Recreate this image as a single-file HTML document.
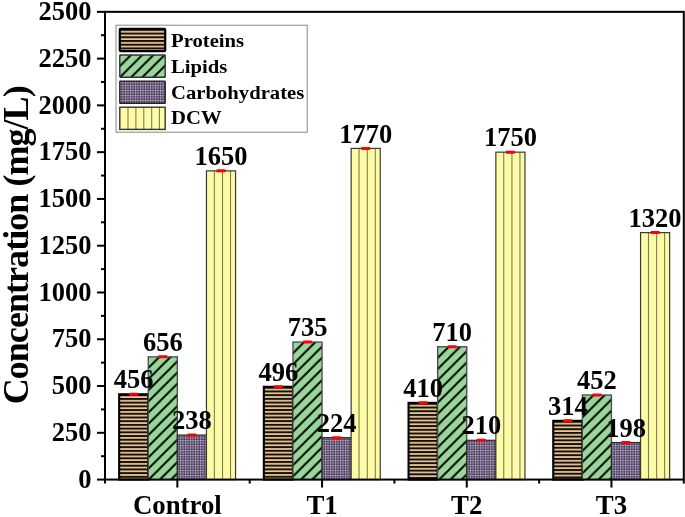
<!DOCTYPE html><html><head><meta charset="utf-8"><style>html,body{margin:0;padding:0;background:#fff;width:685px;height:517px;overflow:hidden}svg{display:block;filter:blur(0.4px)}text{font-family:'Liberation Serif',serif;font-weight:bold}</style></head><body>
<svg width="685" height="517" viewBox="0 0 685 517">
<defs>
<pattern id="pC" patternUnits="userSpaceOnUse" width="2.5" height="2.5"><rect width="2.5" height="2.5" fill="#827494"/><rect width="2.5" height="0.85" fill="#c6b6d8"/><rect width="0.85" height="2.5" fill="#c6b6d8"/><rect y="1.4" width="2.5" height="0.7" fill="#342b44"/><rect x="1.4" width="0.7" height="2.5" fill="#342b44"/></pattern>
<pattern id="pp1" patternUnits="userSpaceOnUse" x="119.15" y="394.26" width="10" height="3.71"><rect width="10" height="3.71" fill="#111"/><rect y="1.95" width="10" height="2.05" fill="#eec48e"/></pattern>
<pattern id="pl2" patternUnits="userSpaceOnUse" x="148.25" y="356.85" width="11.20" height="11.20"><rect width="11.20" height="11.20" fill="#98d69a"/><path d="M-2,2 L2,-2 M-1,12.20 L12.20,-1 M9.20,13.20 L13.20,9.20" stroke="#000" stroke-width="1.95"/></pattern>
<pattern id="pp3" patternUnits="userSpaceOnUse" x="263.85" y="386.78" width="10" height="3.71"><rect width="10" height="3.71" fill="#111"/><rect y="1.95" width="10" height="2.05" fill="#eec48e"/></pattern>
<pattern id="pl4" patternUnits="userSpaceOnUse" x="292.95" y="342.06" width="11.20" height="11.20"><rect width="11.20" height="11.20" fill="#98d69a"/><path d="M-2,2 L2,-2 M-1,12.20 L12.20,-1 M9.20,13.20 L13.20,9.20" stroke="#000" stroke-width="1.95"/></pattern>
<pattern id="pp5" patternUnits="userSpaceOnUse" x="408.55" y="402.87" width="10" height="3.71"><rect width="10" height="3.71" fill="#111"/><rect y="1.95" width="10" height="2.05" fill="#eec48e"/></pattern>
<pattern id="pl6" patternUnits="userSpaceOnUse" x="437.65" y="346.74" width="11.20" height="11.20"><rect width="11.20" height="11.20" fill="#98d69a"/><path d="M-2,2 L2,-2 M-1,12.20 L12.20,-1 M9.20,13.20 L13.20,9.20" stroke="#000" stroke-width="1.95"/></pattern>
<pattern id="pp7" patternUnits="userSpaceOnUse" x="553.25" y="420.83" width="10" height="3.71"><rect width="10" height="3.71" fill="#111"/><rect y="1.95" width="10" height="2.05" fill="#eec48e"/></pattern>
<pattern id="pl8" patternUnits="userSpaceOnUse" x="582.35" y="395.01" width="11.20" height="11.20"><rect width="11.20" height="11.20" fill="#98d69a"/><path d="M-2,2 L2,-2 M-1,12.20 L12.20,-1 M9.20,13.20 L13.20,9.20" stroke="#000" stroke-width="1.95"/></pattern>
<pattern id="pp9" patternUnits="userSpaceOnUse" x="119.80" y="28.90" width="10" height="3.71"><rect width="10" height="3.71" fill="#111"/><rect y="1.95" width="10" height="2.05" fill="#eec48e"/></pattern>
<pattern id="pl10" patternUnits="userSpaceOnUse" x="119.80" y="55.00" width="11.20" height="11.20"><rect width="11.20" height="11.20" fill="#98d69a"/><path d="M-2,2 L2,-2 M-1,12.20 L12.20,-1 M9.20,13.20 L13.20,9.20" stroke="#000" stroke-width="1.95"/></pattern>
</defs>
<rect x="119.15" y="394.26" width="29.10" height="85.32" fill="url(#pp1)" stroke="#000" stroke-width="2.1"/>
<rect x="129.00" y="392.76" width="9.4" height="3" fill="#f00" rx="1.2"/>
<rect x="148.25" y="356.85" width="29.10" height="122.73" fill="url(#pl2)" stroke="#4a4a4a" stroke-width="1.3"/>
<rect x="158.10" y="355.35" width="9.4" height="3" fill="#f00" rx="1.2"/>
<rect x="177.35" y="435.05" width="29.10" height="44.53" fill="url(#pC)" stroke="#2a2a2a" stroke-width="1.2"/>
<rect x="187.20" y="433.55" width="9.4" height="3" fill="#f00" rx="1.2"/>
<rect x="206.45" y="170.87" width="29.10" height="308.71" fill="#fdfba6"/>
<rect x="213.85" y="170.87" width="1" height="308.71" fill="#74744c"/>
<rect x="222.05" y="170.87" width="1" height="308.71" fill="#74744c"/>
<rect x="230.05" y="170.87" width="1" height="308.71" fill="#74744c"/>
<rect x="206.45" y="170.87" width="29.10" height="308.71" fill="none" stroke="#3a3a30" stroke-width="1.2"/>
<rect x="216.30" y="169.37" width="9.4" height="3" fill="#f00" rx="1.2"/>
<rect x="263.85" y="386.78" width="29.10" height="92.80" fill="url(#pp3)" stroke="#000" stroke-width="2.1"/>
<rect x="273.70" y="385.28" width="9.4" height="3" fill="#f00" rx="1.2"/>
<rect x="292.95" y="342.06" width="29.10" height="137.52" fill="url(#pl4)" stroke="#4a4a4a" stroke-width="1.3"/>
<rect x="302.80" y="340.56" width="9.4" height="3" fill="#f00" rx="1.2"/>
<rect x="322.05" y="437.67" width="29.10" height="41.91" fill="url(#pC)" stroke="#2a2a2a" stroke-width="1.2"/>
<rect x="331.90" y="436.17" width="9.4" height="3" fill="#f00" rx="1.2"/>
<rect x="351.15" y="148.42" width="29.10" height="331.16" fill="#fdfba6"/>
<rect x="358.55" y="148.42" width="1" height="331.16" fill="#74744c"/>
<rect x="366.75" y="148.42" width="1" height="331.16" fill="#74744c"/>
<rect x="374.75" y="148.42" width="1" height="331.16" fill="#74744c"/>
<rect x="351.15" y="148.42" width="29.10" height="331.16" fill="none" stroke="#3a3a30" stroke-width="1.2"/>
<rect x="361.00" y="146.92" width="9.4" height="3" fill="#f00" rx="1.2"/>
<rect x="408.55" y="402.87" width="29.10" height="76.71" fill="url(#pp5)" stroke="#000" stroke-width="2.1"/>
<rect x="418.40" y="401.37" width="9.4" height="3" fill="#f00" rx="1.2"/>
<rect x="437.65" y="346.74" width="29.10" height="132.84" fill="url(#pl6)" stroke="#4a4a4a" stroke-width="1.3"/>
<rect x="447.50" y="345.24" width="9.4" height="3" fill="#f00" rx="1.2"/>
<rect x="466.75" y="440.29" width="29.10" height="39.29" fill="url(#pC)" stroke="#2a2a2a" stroke-width="1.2"/>
<rect x="476.60" y="438.79" width="9.4" height="3" fill="#f00" rx="1.2"/>
<rect x="495.85" y="152.16" width="29.10" height="327.42" fill="#fdfba6"/>
<rect x="503.25" y="152.16" width="1" height="327.42" fill="#74744c"/>
<rect x="511.45" y="152.16" width="1" height="327.42" fill="#74744c"/>
<rect x="519.45" y="152.16" width="1" height="327.42" fill="#74744c"/>
<rect x="495.85" y="152.16" width="29.10" height="327.42" fill="none" stroke="#3a3a30" stroke-width="1.2"/>
<rect x="505.70" y="150.66" width="9.4" height="3" fill="#f00" rx="1.2"/>
<rect x="553.25" y="420.83" width="29.10" height="58.75" fill="url(#pp7)" stroke="#000" stroke-width="2.1"/>
<rect x="563.10" y="419.33" width="9.4" height="3" fill="#f00" rx="1.2"/>
<rect x="582.35" y="395.01" width="29.10" height="84.57" fill="url(#pl8)" stroke="#4a4a4a" stroke-width="1.3"/>
<rect x="592.20" y="393.51" width="9.4" height="3" fill="#f00" rx="1.2"/>
<rect x="611.45" y="442.53" width="29.10" height="37.05" fill="url(#pC)" stroke="#2a2a2a" stroke-width="1.2"/>
<rect x="621.30" y="441.03" width="9.4" height="3" fill="#f00" rx="1.2"/>
<rect x="640.55" y="232.61" width="29.10" height="246.97" fill="#fdfba6"/>
<rect x="647.95" y="232.61" width="1" height="246.97" fill="#74744c"/>
<rect x="656.15" y="232.61" width="1" height="246.97" fill="#74744c"/>
<rect x="664.15" y="232.61" width="1" height="246.97" fill="#74744c"/>
<rect x="640.55" y="232.61" width="29.10" height="246.97" fill="none" stroke="#3a3a30" stroke-width="1.2"/>
<rect x="650.40" y="231.11" width="9.4" height="3" fill="#f00" rx="1.2"/>
<text x="133.70" y="388.46" font-size="26.5" text-anchor="middle">456</text>
<text x="162.80" y="351.05" font-size="26.5" text-anchor="middle">656</text>
<text x="191.90" y="429.25" font-size="26.5" text-anchor="middle">238</text>
<text x="221.00" y="165.07" font-size="26.5" text-anchor="middle">1650</text>
<text x="278.40" y="380.98" font-size="26.5" text-anchor="middle">496</text>
<text x="307.50" y="336.26" font-size="26.5" text-anchor="middle">735</text>
<text x="336.60" y="431.87" font-size="26.5" text-anchor="middle">224</text>
<text x="365.70" y="142.62" font-size="26.5" text-anchor="middle">1770</text>
<text x="423.10" y="397.07" font-size="26.5" text-anchor="middle">410</text>
<text x="452.20" y="340.94" font-size="26.5" text-anchor="middle">710</text>
<text x="481.30" y="434.49" font-size="26.5" text-anchor="middle">210</text>
<text x="510.40" y="146.36" font-size="26.5" text-anchor="middle">1750</text>
<text x="567.80" y="415.03" font-size="26.5" text-anchor="middle">314</text>
<text x="596.90" y="389.21" font-size="26.5" text-anchor="middle">452</text>
<text x="626.00" y="436.73" font-size="26.5" text-anchor="middle">198</text>
<text x="655.10" y="226.81" font-size="26.5" text-anchor="middle">1320</text>
<rect x="105.00" y="11.84" width="578.80" height="467.74" fill="none" stroke="#000" stroke-width="2"/>
<line x1="97.00" x2="105.00" y1="479.58" y2="479.58" stroke="#000" stroke-width="2"/>
<text x="91.5" y="487.78" font-size="26.5" text-anchor="end">0</text>
<line x1="101.00" x2="105.00" y1="456.19" y2="456.19" stroke="#000" stroke-width="2"/>
<line x1="97.00" x2="105.00" y1="432.81" y2="432.81" stroke="#000" stroke-width="2"/>
<text x="91.5" y="441.01" font-size="26.5" text-anchor="end">250</text>
<line x1="101.00" x2="105.00" y1="409.42" y2="409.42" stroke="#000" stroke-width="2"/>
<line x1="97.00" x2="105.00" y1="386.03" y2="386.03" stroke="#000" stroke-width="2"/>
<text x="91.5" y="394.23" font-size="26.5" text-anchor="end">500</text>
<line x1="101.00" x2="105.00" y1="362.64" y2="362.64" stroke="#000" stroke-width="2"/>
<line x1="97.00" x2="105.00" y1="339.26" y2="339.26" stroke="#000" stroke-width="2"/>
<text x="91.5" y="347.46" font-size="26.5" text-anchor="end">750</text>
<line x1="101.00" x2="105.00" y1="315.87" y2="315.87" stroke="#000" stroke-width="2"/>
<line x1="97.00" x2="105.00" y1="292.48" y2="292.48" stroke="#000" stroke-width="2"/>
<text x="91.5" y="300.68" font-size="26.5" text-anchor="end">1000</text>
<line x1="101.00" x2="105.00" y1="269.10" y2="269.10" stroke="#000" stroke-width="2"/>
<line x1="97.00" x2="105.00" y1="245.71" y2="245.71" stroke="#000" stroke-width="2"/>
<text x="91.5" y="253.91" font-size="26.5" text-anchor="end">1250</text>
<line x1="101.00" x2="105.00" y1="222.32" y2="222.32" stroke="#000" stroke-width="2"/>
<line x1="97.00" x2="105.00" y1="198.94" y2="198.94" stroke="#000" stroke-width="2"/>
<text x="91.5" y="207.14" font-size="26.5" text-anchor="end">1500</text>
<line x1="101.00" x2="105.00" y1="175.55" y2="175.55" stroke="#000" stroke-width="2"/>
<line x1="97.00" x2="105.00" y1="152.16" y2="152.16" stroke="#000" stroke-width="2"/>
<text x="91.5" y="160.36" font-size="26.5" text-anchor="end">1750</text>
<line x1="101.00" x2="105.00" y1="128.77" y2="128.77" stroke="#000" stroke-width="2"/>
<line x1="97.00" x2="105.00" y1="105.39" y2="105.39" stroke="#000" stroke-width="2"/>
<text x="91.5" y="113.59" font-size="26.5" text-anchor="end">2000</text>
<line x1="101.00" x2="105.00" y1="82.00" y2="82.00" stroke="#000" stroke-width="2"/>
<line x1="97.00" x2="105.00" y1="58.61" y2="58.61" stroke="#000" stroke-width="2"/>
<text x="91.5" y="66.81" font-size="26.5" text-anchor="end">2250</text>
<line x1="101.00" x2="105.00" y1="35.23" y2="35.23" stroke="#000" stroke-width="2"/>
<line x1="97.00" x2="105.00" y1="11.84" y2="11.84" stroke="#000" stroke-width="2"/>
<text x="91.5" y="20.04" font-size="26.5" text-anchor="end">2500</text>
<line x1="177.35" x2="177.35" y1="479.58" y2="487.58" stroke="#000" stroke-width="2"/>
<text x="177.35" y="513.6" font-size="26.8" text-anchor="middle">Control</text>
<line x1="322.05" x2="322.05" y1="479.58" y2="487.58" stroke="#000" stroke-width="2"/>
<text x="322.05" y="513.6" font-size="26.8" text-anchor="middle">T1</text>
<line x1="466.75" x2="466.75" y1="479.58" y2="487.58" stroke="#000" stroke-width="2"/>
<text x="466.75" y="513.6" font-size="26.8" text-anchor="middle">T2</text>
<line x1="611.45" x2="611.45" y1="479.58" y2="487.58" stroke="#000" stroke-width="2"/>
<text x="611.45" y="513.6" font-size="26.8" text-anchor="middle">T3</text>
<line x1="105.00" x2="105.00" y1="479.58" y2="483.58" stroke="#000" stroke-width="2"/>
<line x1="249.70" x2="249.70" y1="479.58" y2="483.58" stroke="#000" stroke-width="2"/>
<line x1="394.40" x2="394.40" y1="479.58" y2="483.58" stroke="#000" stroke-width="2"/>
<line x1="539.10" x2="539.10" y1="479.58" y2="483.58" stroke="#000" stroke-width="2"/>
<line x1="683.80" x2="683.80" y1="479.58" y2="483.58" stroke="#000" stroke-width="2"/>
<text transform="translate(28.4,404.3) rotate(-90)" font-size="36" textLength="319" lengthAdjust="spacing">Concentration (mg/L)</text>
<rect x="116" y="25.2" width="191.2" height="107" fill="#fff" stroke="#888" stroke-width="1"/>
<rect x="119.80" y="28.90" width="45.40" height="22.20" fill="url(#pp9)" stroke="#000" stroke-width="2.2" rx="0.8"/>
<text transform="translate(171,46.90) scale(1.045,1)" font-size="19.8">Proteins</text>
<rect x="119.80" y="55.00" width="45.40" height="22.20" fill="url(#pl10)" stroke="#333" stroke-width="1.4" rx="0.6"/>
<text transform="translate(171,72.73) scale(1.045,1)" font-size="19.8">Lipids</text>
<rect x="119.80" y="81.10" width="45.40" height="22.20" fill="url(#pC)" stroke="#222" stroke-width="1.4" rx="0.6"/>
<text transform="translate(171,98.56) scale(1.045,1)" font-size="19.8">Carbohydrates</text>
<rect x="119.80" y="107.20" width="45.40" height="22.20" fill="#fdfba6"/>
<rect x="127.50" y="107.20" width="1" height="22.20" fill="#74744c"/>
<rect x="135.40" y="107.20" width="1" height="22.20" fill="#74744c"/>
<rect x="143.30" y="107.20" width="1" height="22.20" fill="#74744c"/>
<rect x="151.20" y="107.20" width="1" height="22.20" fill="#74744c"/>
<rect x="158.90" y="107.20" width="1" height="22.20" fill="#74744c"/>
<rect x="119.80" y="107.20" width="45.40" height="22.20" fill="none" stroke="#333" stroke-width="1.4"/>
<text transform="translate(171,124.39) scale(1.045,1)" font-size="19.8">DCW</text>
</svg></body></html>
